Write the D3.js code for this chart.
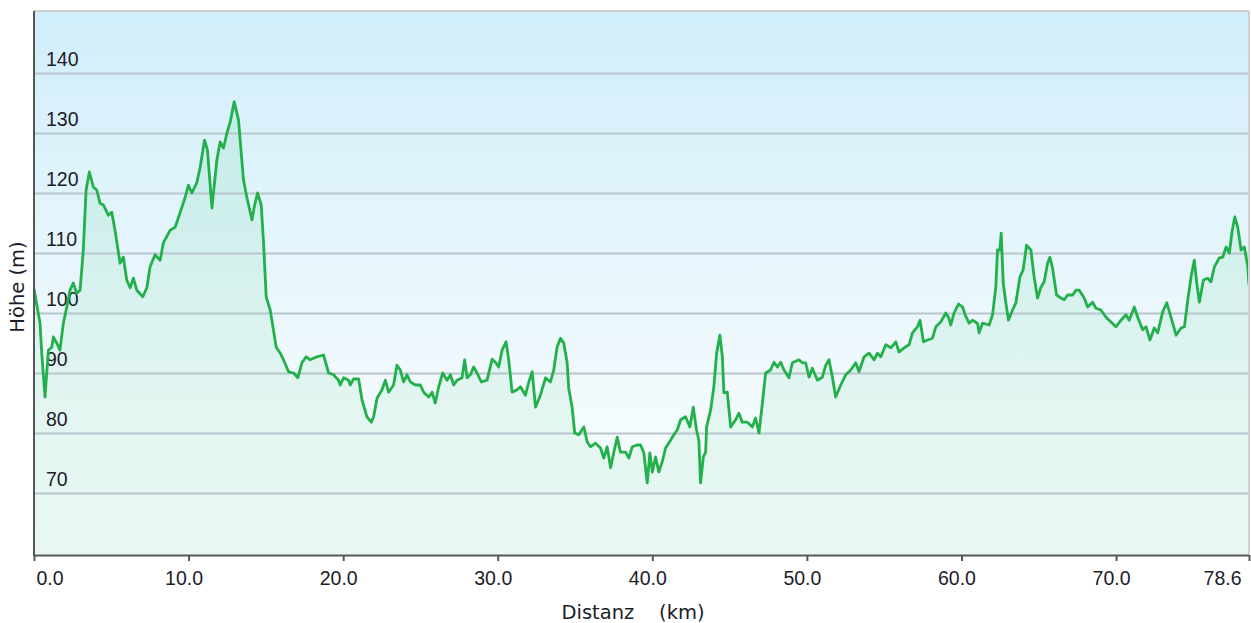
<!DOCTYPE html>
<html>
<head>
<meta charset="utf-8">
<script src="https://cdn.jsdelivr.net/npm/d3@7/dist/d3.min.js"></script>
<style>
  html, body { margin: 0; padding: 0; background: #ffffff; }
  svg { display: block; font-family: "DejaVu Sans", Verdana, sans-serif; }
</style>
</head>
<body>
<svg id="chart" width="1251" height="623"></svg>
<script>
// ---- data ----
const distanceKm = [0.00,0.39,0.50,0.71,0.93,1.15,1.25,1.47,1.68,1.90,2.12,2.33,2.54,2.76,2.98,3.19,3.37,3.58,3.84,4.06,4.27,4.49,4.81,5.03,5.24,5.57,5.78,6.00,6.22,6.43,6.65,7.04,7.30,7.51,7.83,8.16,8.37,8.81,9.13,9.45,9.78,9.99,10.21,10.53,10.75,11.03,11.22,11.51,11.83,12.04,12.26,12.48,12.69,12.95,13.23,13.55,13.77,14.10,14.25,14.46,14.70,14.85,15.02,15.28,15.67,15.93,16.14,16.47,16.79,17.07,17.33,17.61,17.87,18.30,18.73,19.06,19.38,19.70,19.81,20.03,20.35,20.46,20.67,21.00,21.22,21.54,21.82,21.97,22.19,22.51,22.73,22.94,23.26,23.48,23.70,23.91,24.13,24.35,24.67,24.99,25.21,25.53,25.75,25.96,26.18,26.44,26.72,26.94,27.15,27.37,27.69,27.86,28.02,28.23,28.44,28.66,28.94,29.31,29.64,29.85,30.06,30.28,30.54,30.71,30.93,31.25,31.47,31.79,32.01,32.23,32.44,32.76,33.09,33.41,33.62,33.84,34.06,34.27,34.49,34.59,34.81,34.98,35.24,35.57,35.79,36.00,36.32,36.65,36.86,37.08,37.30,37.51,37.73,37.94,38.27,38.48,38.70,39.02,39.24,39.45,39.67,39.84,40.00,40.21,40.42,40.64,40.86,41.18,41.39,41.61,41.83,42.15,42.43,42.65,42.86,43.01,43.12,43.30,43.45,43.51,43.77,43.98,44.16,44.37,44.53,44.63,44.85,45.07,45.39,45.60,45.82,46.15,46.47,46.68,46.90,47.12,47.33,47.65,47.87,48.09,48.30,48.52,48.84,49.06,49.49,49.71,49.92,50.14,50.35,50.68,51.00,51.22,51.43,51.65,51.86,52.19,52.51,52.84,53.16,53.37,53.70,54.02,54.35,54.56,54.78,55.10,55.43,55.75,55.96,56.29,56.61,56.83,57.15,57.32,57.54,57.80,58.12,58.34,58.66,58.98,59.16,59.31,59.52,59.81,60.07,60.24,60.49,60.71,61.04,61.14,61.36,61.79,62.01,62.22,62.33,62.48,62.57,62.70,62.87,63.04,63.30,63.52,63.78,63.99,64.21,64.49,64.70,64.92,65.14,65.35,65.57,65.72,65.89,66.15,66.43,66.65,66.87,67.19,67.40,67.62,67.94,68.16,68.48,68.70,69.02,69.35,69.67,69.99,70.32,70.64,70.85,71.18,71.40,71.72,71.94,72.19,72.47,72.69,73.02,73.28,73.55,73.88,74.20,74.42,74.64,74.85,75.06,75.22,75.39,75.65,75.93,76.14,76.36,76.68,76.90,77.12,77.33,77.50,77.68,77.87,78.09,78.30,78.52,78.60];
const elevationM = [104.0,98.3,93.3,86.0,93.8,94.3,96.0,95.0,93.8,98.3,101.0,103.8,105.0,103.3,103.8,110.5,120.5,123.5,121.0,120.5,118.3,118.0,116.3,116.8,113.8,108.3,109.3,105.5,104.2,105.8,103.8,102.7,104.2,107.7,109.7,108.8,111.7,113.8,114.3,116.7,119.3,121.3,120.0,121.7,124.3,128.8,127.2,117.5,125.5,128.5,127.5,130.0,131.8,135.2,132.2,122.2,119.3,115.5,117.7,120.0,118.0,111.7,102.7,100.5,94.3,93.3,92.2,90.2,90.0,89.2,91.7,92.7,92.2,92.7,93.0,90.0,89.7,88.8,88.0,89.2,88.8,88.0,89.0,89.0,85.5,82.7,81.8,82.7,85.8,87.2,88.8,86.8,88.0,91.3,90.5,88.5,89.7,88.5,88.0,88.0,86.8,86.0,86.8,85.0,87.7,90.0,88.8,89.7,88.0,88.8,89.2,92.2,89.2,89.7,91.0,90.0,88.5,88.8,92.3,91.8,91.0,93.8,95.2,92.2,86.8,87.2,87.7,86.3,88.5,90.2,84.3,86.3,89.2,88.5,90.5,94.3,95.8,95.0,91.7,87.5,84.3,80.0,79.7,81.0,78.5,77.7,78.3,77.5,75.8,77.7,74.2,76.8,79.3,76.8,76.8,75.8,77.7,78.0,78.0,76.7,71.7,76.7,73.5,76.0,73.5,75.2,77.5,78.8,79.7,80.5,82.2,82.7,81.0,84.3,80.5,78.8,71.7,76.0,76.8,81.0,83.8,87.7,93.3,96.3,92.7,86.7,86.8,81.0,82.2,83.3,81.8,81.8,81.0,82.5,80.0,85.0,90.0,90.5,91.8,91.0,91.8,90.5,89.2,91.7,92.2,91.7,91.7,89.3,90.8,88.8,89.3,91.3,92.2,89.3,86.0,88.0,89.7,90.5,91.7,90.2,92.7,93.3,92.2,93.3,92.7,94.7,94.2,95.2,93.5,94.2,94.7,96.7,97.7,98.8,95.2,95.5,95.8,97.7,98.5,100.0,99.3,98.0,100.0,101.5,101.0,99.7,98.3,98.8,98.3,96.7,98.3,98.0,99.7,104.3,110.5,110.5,113.3,105.0,101.7,98.8,100.5,101.7,106.0,107.2,111.3,110.5,106.0,102.5,104.3,105.2,108.3,109.3,107.5,103.0,102.5,102.2,103.0,103.0,103.8,103.8,102.5,101.0,101.8,100.8,100.5,99.3,98.5,97.7,98.8,99.7,98.8,101.0,99.3,97.2,97.7,95.5,97.5,96.7,100.2,101.7,99.3,96.3,97.5,97.7,102.2,106.0,108.8,105.0,101.8,105.5,105.8,105.2,107.7,109.2,109.3,111.0,110.0,113.5,116.0,114.3,110.5,111.0,107.7,104.7];
const xTickValues = [0, 10, 20, 30, 40, 50, 60, 70, 78.6];
const xTickLabels = ["0.0", "10.0", "20.0", "30.0", "40.0", "50.0", "60.0", "70.0", "78.6"];
const yTickValues = [70, 80, 90, 100, 110, 120, 130, 140];
const yDomain = [60, 150];
const xTitle = "Distanz\u00A0\u00A0\u00A0\u00A0(km)";
const yTitle = "Höhe (m)";

// ---- layout ----
const pLeft = 34, pRight = 1249, pTop = 11, pBottom = 554;
const fontSize = 19.5;
const textColor = "#1c1c2a";
const svg = d3.select("#chart");
const x = d3.scaleLinear().domain([0, 78.6]).range([pLeft, pRight]);
const y = d3.scaleLinear().domain(yDomain).range([553, 13]);

const defs = svg.append("defs");
const bg = defs.append("linearGradient").attr("id", "bg").attr("x1", 0).attr("y1", 0).attr("x2", 0).attr("y2", 1);
bg.append("stop").attr("offset", "0%").attr("stop-color", "#d0eefa");
bg.append("stop").attr("offset", "72%").attr("stop-color", "#f3fafd");
bg.append("stop").attr("offset", "100%").attr("stop-color", "#f6fcfb");
const ag = defs.append("linearGradient").attr("id", "ag").attr("x1", 0).attr("y1", 0).attr("x2", 0).attr("y2", 1);
ag.append("stop").attr("offset", "0%").attr("stop-color", "#3cc878").attr("stop-opacity", 0.13);
ag.append("stop").attr("offset", "100%").attr("stop-color", "#3cc878").attr("stop-opacity", 0.07);
defs.append("clipPath").attr("id", "clip").append("rect")
  .attr("x", pLeft).attr("y", pTop).attr("width", pRight - pLeft).attr("height", pBottom - pTop);

// plot background
svg.append("rect").attr("x", pLeft).attr("y", pTop).attr("width", pRight - pLeft).attr("height", pBottom - pTop)
  .attr("fill", "url(#bg)");

// area under the profile
const n = Math.min(distanceKm.length, elevationM.length);
const pts = d3.range(n).map(i => [distanceKm[i], elevationM[i]]);
svg.append("path").datum(pts)
  .attr("clip-path", "url(#clip)")
  .attr("fill", "url(#ag)")
  .attr("d", d3.area().x(d => x(d[0])).y0(y(yDomain[0]) + 1).y1(d => y(d[1])));

// horizontal gridlines + y labels (inside plot)
const yAxis = svg.append("g").attr("transform", `translate(${pLeft},0)`)
  .call(d3.axisLeft(y).tickValues(yTickValues).tickSize(-(pRight - pLeft)).tickFormat(d3.format("d")));
yAxis.select(".domain").remove();
yAxis.selectAll(".tick line").attr("stroke", "#b7c6cc").attr("stroke-width", 2);
yAxis.selectAll(".tick text")
  .attr("x", 12).attr("dy", null).attr("y", -8)
  .attr("text-anchor", "start")
  .attr("font-size", fontSize).attr("fill", textColor);

// profile line
svg.append("path").datum(pts)
  .attr("clip-path", "url(#clip)")
  .attr("fill", "none")
  .attr("stroke", "#22b04b")
  .attr("stroke-width", 2.8)
  .attr("stroke-linejoin", "round")
  .attr("d", d3.line().x(d => x(d[0])).y(d => y(d[1])));

// frame: top and right light borders
svg.append("line").attr("x1", pLeft).attr("x2", pRight).attr("y1", pTop).attr("y2", pTop)
  .attr("stroke", "#cfcfcf").attr("stroke-width", 2);
svg.append("line").attr("x1", pRight).attr("x2", pRight).attr("y1", pTop).attr("y2", pBottom)
  .attr("stroke", "#cfcfcf").attr("stroke-width", 2);

// x axis
const xAxis = svg.append("g").attr("transform", `translate(0,${pBottom + 1})`)
  .call(d3.axisBottom(x).tickValues(xTickValues).tickSize(6).tickSizeOuter(0)
    .tickFormat((d, i) => xTickLabels[i]));
xAxis.select(".domain").attr("stroke", "#555").attr("stroke-width", 2);
xAxis.selectAll(".tick line").attr("stroke", "#555").attr("stroke-width", 2);
xAxis.selectAll(".tick text")
  .attr("font-size", fontSize).attr("fill", textColor).attr("dy", null).attr("y", 30)
  .attr("text-anchor", (d, i) => i === 0 ? "start" : (i === xTickValues.length - 1 ? "end" : "middle"))
  .attr("x", (d, i) => i === 0 ? 2 : (i === xTickValues.length - 1 ? -8 : -5));

// left axis line
svg.append("line").attr("x1", pLeft).attr("x2", pLeft).attr("y1", pTop).attr("y2", pBottom + 2)
  .attr("stroke", "#555").attr("stroke-width", 2);

// axis titles
svg.append("text").attr("x", 633).attr("y", 619)
  .attr("text-anchor", "middle").attr("font-size", fontSize).attr("fill", textColor)
  .style("white-space", "pre").text(xTitle);
svg.append("text").attr("transform", "translate(24,287) rotate(-90)")
  .attr("text-anchor", "middle").attr("font-size", fontSize).attr("fill", textColor)
  .text(yTitle);
</script>
</body>
</html>
